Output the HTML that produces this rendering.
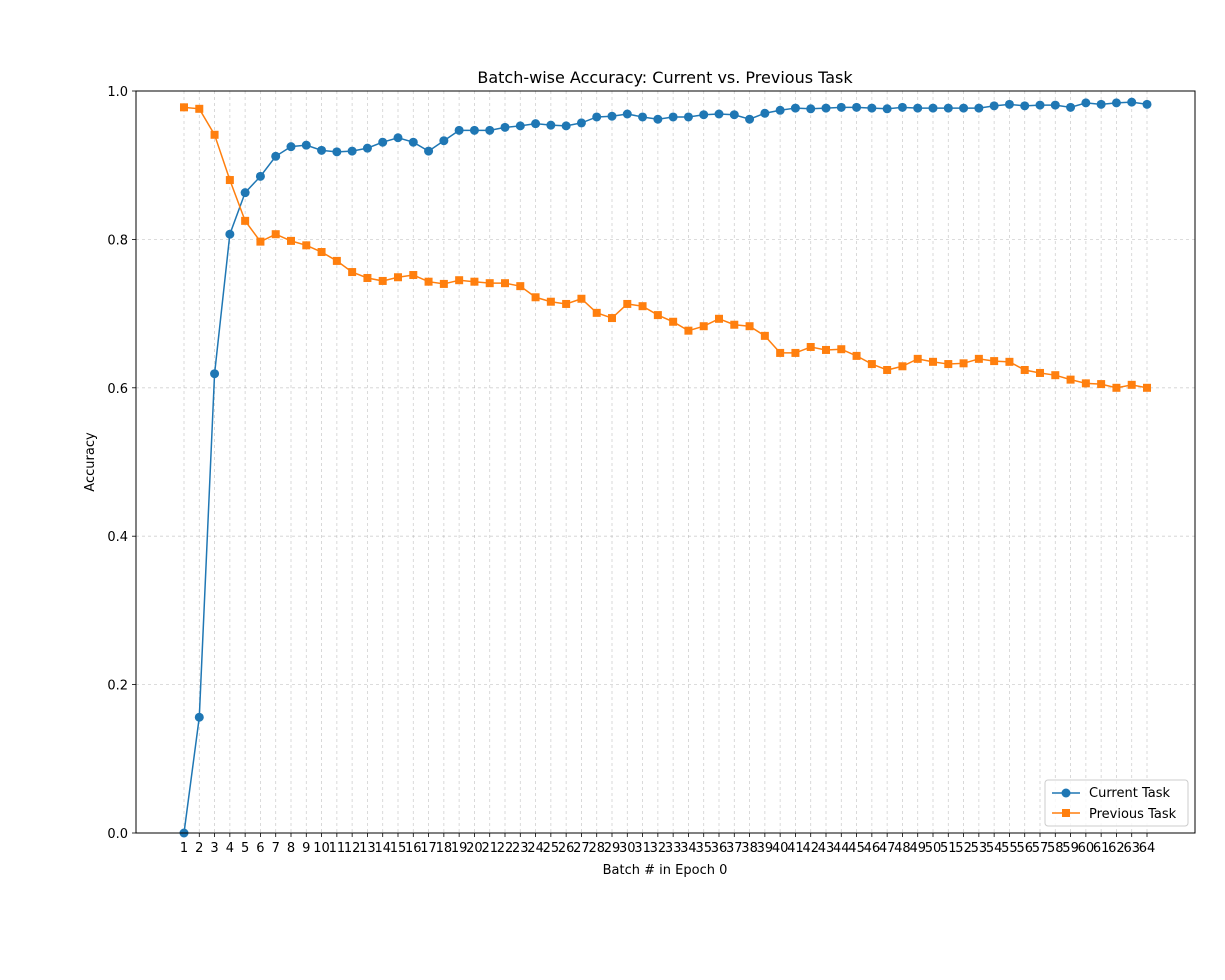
<!DOCTYPE html>
<html><head><meta charset="utf-8"><style>
body{margin:0;background:#fff;}
svg text{font-family:"DejaVu Sans","Liberation Sans",sans-serif;fill:#000;}
</style></head><body>
<svg id="chart" width="1225" height="975" xmlns="http://www.w3.org/2000/svg">
<rect width="1225" height="975" fill="#fff"/>
<g id="grid"></g>
<g id="ticks"></g>
<g id="series"></g>
<rect x="136" y="91" width="1059" height="742" fill="none" stroke="#000" stroke-width="1"/>
<text x="665" y="83" font-size="16" text-anchor="middle">Batch-wise Accuracy: Current vs. Previous Task</text>
<text x="665" y="874" font-size="13" text-anchor="middle">Batch # in Epoch 0</text>
<text x="94" y="462" font-size="13" text-anchor="middle" transform="rotate(-90 94 462)">Accuracy</text>
<g>
<rect x="1045" y="780" width="143" height="46" rx="3" fill="#fff" fill-opacity="0.8" stroke="#ccc"/>
<line x1="1052" y1="793" x2="1080" y2="793" stroke="#1f77b4" stroke-width="1.5"/>
<circle cx="1066" cy="793" r="4.5" fill="#1f77b4"/>
<text x="1089" y="797" font-size="13">Current Task</text>
<line x1="1052" y1="813" x2="1080" y2="813" stroke="#ff7f0e" stroke-width="1.5"/>
<rect x="1062" y="809" width="8" height="8" fill="#ff7f0e"/>
<text x="1089" y="818" font-size="13">Previous Task</text>
</g>
</svg>
<script>
const batches = Array.from({length:64},(_,i)=>i+1);
const currentTask = [0.0,0.156,0.619,0.807,0.863,0.885,0.912,0.925,0.927,0.920,0.918,0.919,0.923,0.931,0.937,0.931,0.919,0.933,0.947,0.947,0.947,0.951,0.953,0.956,0.954,0.953,0.957,0.965,0.966,0.969,0.965,0.962,0.965,0.965,0.968,0.969,0.968,0.962,0.970,0.974,0.977,0.976,0.977,0.978,0.978,0.977,0.976,0.978,0.977,0.977,0.977,0.977,0.977,0.980,0.982,0.980,0.981,0.981,0.978,0.984,0.982,0.984,0.985,0.982];
const previousTask = [0.978,0.976,0.941,0.880,0.825,0.797,0.807,0.798,0.792,0.783,0.771,0.756,0.748,0.744,0.749,0.752,0.743,0.740,0.745,0.743,0.741,0.741,0.737,0.722,0.716,0.713,0.720,0.701,0.694,0.713,0.710,0.698,0.689,0.677,0.683,0.693,0.685,0.683,0.670,0.647,0.647,0.655,0.651,0.652,0.643,0.632,0.624,0.629,0.639,0.635,0.632,0.633,0.639,0.636,0.635,0.624,0.620,0.617,0.611,0.606,0.605,0.600,0.604,0.600];
const yTicks = [0.0,0.2,0.4,0.6,0.8,1.0];

const NS="http://www.w3.org/2000/svg";
const X0=136,X1=1195,Y0=833,Y1=91;
const xmin=-2.14,xmax=67.14;
const xs=v=>X0+(v-xmin)/(xmax-xmin)*(X1-X0);
const ys=v=>Y0-(v-0)/(1-0)*(Y0-Y1);
function mk(tag,attrs,parent){const e=document.createElementNS(NS,tag);for(const k in attrs)e.setAttribute(k,attrs[k]);parent.appendChild(e);return e;}
const grid=document.getElementById('grid'),ticks=document.getElementById('ticks'),ser=document.getElementById('series');
batches.forEach(b=>{
  const x=xs(b);
  const g=mk('line',{x1:x,x2:x,y1:Y1,y2:Y0,stroke:'#b0b0b0','stroke-width':0.8,'stroke-dasharray':'3,3','stroke-opacity':0.6},grid);
  
  
  mk('line',{x1:x,x2:x,y1:Y0,y2:Y0+4,stroke:'#000','stroke-width':0.8},ticks);
  const t=mk('text',{x:x,y:Y0+19,'font-size':13,'text-anchor':'middle'},ticks);
  t.textContent=b;
  
  
});
yTicks.forEach(v=>{
  const y=ys(v);
  const g=mk('line',{x1:X0,x2:X1,y1:y,y2:y,stroke:'#b0b0b0','stroke-width':0.8,'stroke-dasharray':'3,3','stroke-opacity':0.6},grid);
  
  
  mk('line',{x1:X0-4,x2:X0,y1:y,y2:y,stroke:'#000','stroke-width':0.8},ticks);
  const t=mk('text',{x:X0-8,y:y+5,'font-size':13,'text-anchor':'end'},ticks);
  t.textContent=v.toFixed(1);
  
  
});
function drawSeries(vals,color,shape,name){
  const pts=vals.map((v,i)=>xs(batches[i])+','+ys(v)).join(' ');
  const pl=mk('polyline',{points:pts,fill:'none',stroke:color,'stroke-width':1.5},ser);
  
  
  vals.forEach((v,i)=>{
    const x=xs(batches[i]),y=ys(v);
    let m;
    if(shape==='circle') m=mk('circle',{cx:x,cy:y,r:4.5,fill:color},ser);
    else m=mk('rect',{x:x-4,y:y-4,width:8,height:8,fill:color},ser);
    
    
  });
}
drawSeries(currentTask,'#1f77b4','circle','current-task');
drawSeries(previousTask,'#ff7f0e','square','previous-task');
</script>
</body></html>
